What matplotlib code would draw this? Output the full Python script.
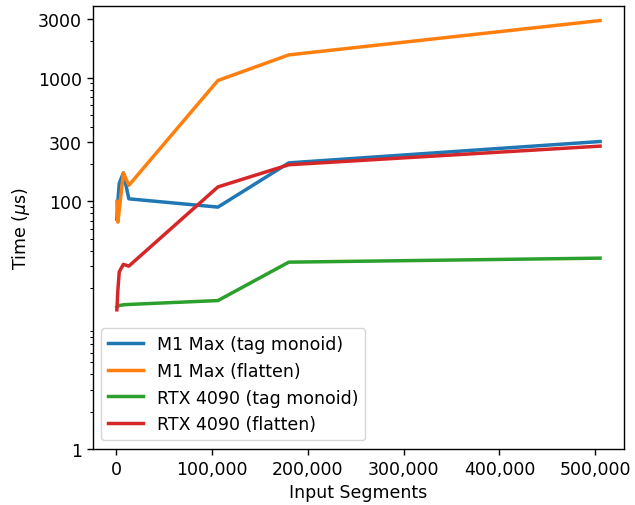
import matplotlib
matplotlib.use("Agg")
import matplotlib.pyplot as plt
import matplotlib.ticker as ticker

segments = [500, 1500, 3000, 7300, 13000, 106000, 180000, 505000]
m1_tag_monoid = [72, 100, 140, 170, 105, 90, 205, 305]
m1_flatten = [100, 68, 85, 170, 135, 950, 1530, 2900]
rtx_tag_monoid = [14.0, 14.2, 14.4, 14.6, 14.7, 15.8, 32.3, 34.8]
rtx_flatten = [13.3, 19, 27, 31, 30, 131, 198, 280]

y_ticks = [1, 100, 300, 1000, 3000]

plt.rcParams['font.size'] = 12.5
plt.rcParams['axes.linewidth'] = 1.0
plt.rcParams['xtick.major.size'] = 4.4
plt.rcParams['ytick.major.size'] = 4.4
plt.rcParams['xtick.major.width'] = 1.0
plt.rcParams['ytick.major.width'] = 1.0
plt.rcParams['ytick.minor.size'] = 2.5
plt.rcParams['ytick.minor.width'] = 0.75

fig = plt.figure(figsize=(6.35, 5.06), dpi=100)
ax = fig.add_axes([0.146, 0.111, 0.837, 0.875])

ax.plot(segments, m1_tag_monoid, lw=2.5, label='M1 Max (tag monoid)')
ax.plot(segments, m1_flatten, lw=2.5, label='M1 Max (flatten)')
ax.plot(segments, rtx_tag_monoid, lw=2.5, label='RTX 4090 (tag monoid)')
ax.plot(segments, rtx_flatten, lw=2.5, label='RTX 4090 (flatten)')

ax.set_yscale('log')
ax.set_ylim(bottom=1)
ax.set_yticks(y_ticks)
ax.set_yticklabels([str(t) for t in y_ticks])
ax.xaxis.set_major_formatter(ticker.FuncFormatter(lambda v, p: f'{int(v):,}'))

ax.set_xlabel('Input Segments')
ax.set_ylabel(r'Time ($\mu$s)')
ax.legend(loc='lower left')

fig.savefig('out.png')
